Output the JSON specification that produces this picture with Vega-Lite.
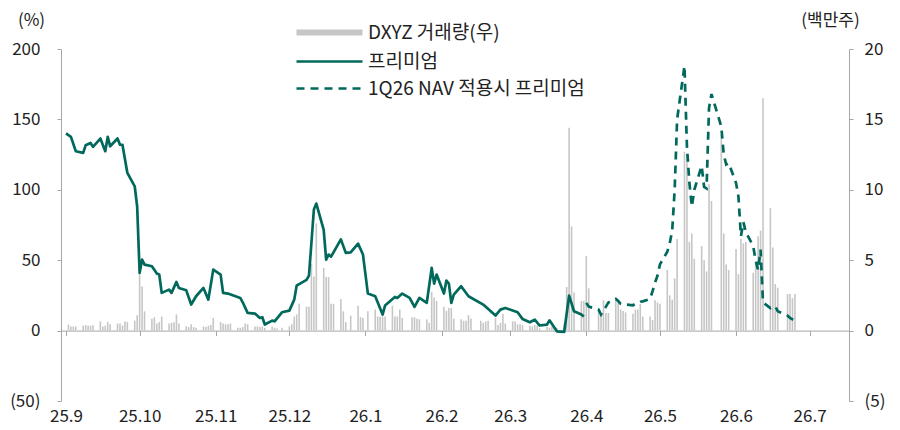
{
  "$schema": "https://vega.github.io/schema/vega-lite/v6.json",
  "width": 788,
  "height": 352,
  "autosize": "none",
  "padding": {"left": 61, "top": 49, "right": 51, "bottom": 29},
  "background": "white",
  "config": {
    "view": {"stroke": null},
    "font": "Noto Sans CJK KR"
  },
  "datasets": {
    "vol": [
      {"d":"2025-09-02","v":0.43},{"d":"2025-09-03","v":0.3},{"d":"2025-09-04","v":0.3},{"d":"2025-09-05","v":0.3},
      {"d":"2025-09-08","v":0.35},{"d":"2025-09-09","v":0.4},{"d":"2025-09-10","v":0.35},{"d":"2025-09-11","v":0.35},{"d":"2025-09-12","v":0.38},
      {"d":"2025-09-15","v":0.66},{"d":"2025-09-16","v":0.3},{"d":"2025-09-17","v":0.35},{"d":"2025-09-18","v":0.6},{"d":"2025-09-19","v":0.45},
      {"d":"2025-09-22","v":0.5},{"d":"2025-09-23","v":0.5},{"d":"2025-09-24","v":0.35},{"d":"2025-09-25","v":0.64},{"d":"2025-09-26","v":0.62},
      {"d":"2025-09-29","v":0.71},{"d":"2025-09-30","v":1.09},{"d":"2025-10-01","v":4.1},{"d":"2025-10-02","v":3.14},{"d":"2025-10-03","v":1.37},
      {"d":"2025-10-06","v":0.85},{"d":"2025-10-07","v":0.95},{"d":"2025-10-08","v":0.5},{"d":"2025-10-09","v":0.6},{"d":"2025-10-10","v":1.0},
      {"d":"2025-10-13","v":0.5},{"d":"2025-10-14","v":0.55},{"d":"2025-10-15","v":0.6},{"d":"2025-10-16","v":1.15},{"d":"2025-10-17","v":0.5},
      {"d":"2025-10-20","v":0.3},{"d":"2025-10-21","v":0.25},{"d":"2025-10-22","v":0.45},{"d":"2025-10-23","v":0.25},{"d":"2025-10-24","v":0.2},
      {"d":"2025-10-27","v":0.3},{"d":"2025-10-28","v":0.25},{"d":"2025-10-29","v":0.35},{"d":"2025-10-30","v":0.4},{"d":"2025-10-31","v":0.9},
      {"d":"2025-11-03","v":0.6},{"d":"2025-11-04","v":0.5},{"d":"2025-11-05","v":0.45},{"d":"2025-11-06","v":0.45},{"d":"2025-11-07","v":0.5},
      {"d":"2025-11-10","v":0.2},{"d":"2025-11-11","v":0.2},{"d":"2025-11-12","v":0.25},{"d":"2025-11-13","v":0.5},{"d":"2025-11-14","v":0.45},
      {"d":"2025-11-17","v":0.3},{"d":"2025-11-18","v":0.3},{"d":"2025-11-19","v":0.25},{"d":"2025-11-20","v":0.3},{"d":"2025-11-21","v":0.2},
      {"d":"2025-11-24","v":0.3},{"d":"2025-11-25","v":0.2},{"d":"2025-11-26","v":0.15},{"d":"2025-11-28","v":0.2},
      {"d":"2025-12-01","v":0.3},{"d":"2025-12-02","v":0.45},{"d":"2025-12-03","v":1.0},{"d":"2025-12-04","v":1.15},{"d":"2025-12-05","v":1.9},
      {"d":"2025-12-08","v":1.7},{"d":"2025-12-09","v":1.7},{"d":"2025-12-10","v":4.75},{"d":"2025-12-11","v":3.85},{"d":"2025-12-12","v":7.6},
      {"d":"2025-12-15","v":4.45},{"d":"2025-12-16","v":3.8},{"d":"2025-12-17","v":3.8},{"d":"2025-12-18","v":1.9},{"d":"2025-12-19","v":1.9},
      {"d":"2025-12-22","v":2.25},{"d":"2025-12-23","v":1.37},{"d":"2025-12-24","v":0.6},{"d":"2025-12-26","v":1.06},
      {"d":"2025-12-29","v":1.77},{"d":"2025-12-30","v":0.95},{"d":"2025-12-31","v":0.9},{"d":"2026-01-02","v":1.37},
      {"d":"2026-01-05","v":1.5},{"d":"2026-01-06","v":1.0},{"d":"2026-01-07","v":1.0},{"d":"2026-01-08","v":1.0},{"d":"2026-01-09","v":1.0},
      {"d":"2026-01-12","v":1.77},{"d":"2026-01-13","v":1.0},{"d":"2026-01-14","v":1.0},{"d":"2026-01-15","v":1.5},{"d":"2026-01-16","v":0.9},
      {"d":"2026-01-20","v":0.95},{"d":"2026-01-21","v":0.95},{"d":"2026-01-22","v":0.85},{"d":"2026-01-23","v":0.8},
      {"d":"2026-01-26","v":0.8},{"d":"2026-01-27","v":0.55},{"d":"2026-01-28","v":2.75},{"d":"2026-01-29","v":2.35},{"d":"2026-01-30","v":2.1},
      {"d":"2026-02-02","v":1.7},{"d":"2026-02-03","v":1.4},{"d":"2026-02-04","v":1.6},{"d":"2026-02-05","v":1.6},{"d":"2026-02-06","v":0.85},
      {"d":"2026-02-09","v":0.8},{"d":"2026-02-10","v":0.7},{"d":"2026-02-11","v":0.7},{"d":"2026-02-12","v":1.1},{"d":"2026-02-13","v":0.85},
      {"d":"2026-02-17","v":0.7},{"d":"2026-02-18","v":0.55},{"d":"2026-02-19","v":0.65},{"d":"2026-02-20","v":0.7},
      {"d":"2026-02-23","v":0.9},{"d":"2026-02-24","v":0.4},{"d":"2026-02-25","v":0.55},{"d":"2026-02-26","v":1.2},{"d":"2026-02-27","v":0.5},
      {"d":"2026-03-02","v":0.65},{"d":"2026-03-03","v":0.65},{"d":"2026-03-04","v":0.45},{"d":"2026-03-05","v":0.45},{"d":"2026-03-06","v":0.4},
      {"d":"2026-03-09","v":0.35},{"d":"2026-03-10","v":0.3},{"d":"2026-03-11","v":0.4},{"d":"2026-03-12","v":0.35},{"d":"2026-03-13","v":0.15},
      {"d":"2026-03-16","v":0.25},{"d":"2026-03-17","v":0.2},{"d":"2026-03-18","v":0.3},{"d":"2026-03-19","v":0.25},{"d":"2026-03-20","v":0.2},
      {"d":"2026-03-23","v":0.5},{"d":"2026-03-24","v":3.1},{"d":"2026-03-25","v":14.4},{"d":"2026-03-26","v":7.4},{"d":"2026-03-27","v":2.7},
      {"d":"2026-03-30","v":2.1},{"d":"2026-03-31","v":2.1},{"d":"2026-04-01","v":5.3},{"d":"2026-04-02","v":3.0},
      {"d":"2026-04-06","v":1.5},{"d":"2026-04-07","v":1.25},{"d":"2026-04-08","v":2.15},{"d":"2026-04-09","v":1.25},{"d":"2026-04-10","v":1.25},
      {"d":"2026-04-13","v":2.2},{"d":"2026-04-14","v":2.2},{"d":"2026-04-15","v":1.5},{"d":"2026-04-16","v":1.4},{"d":"2026-04-17","v":1.3},
      {"d":"2026-04-20","v":1.2},{"d":"2026-04-21","v":1.5},{"d":"2026-04-22","v":1.5},{"d":"2026-04-23","v":1.9},{"d":"2026-04-24","v":1.0},
      {"d":"2026-04-27","v":1.0},{"d":"2026-04-28","v":0.75},{"d":"2026-04-29","v":2.15},{"d":"2026-04-30","v":2.0},{"d":"2026-05-01","v":1.9},
      {"d":"2026-05-04","v":4.3},{"d":"2026-05-05","v":2.5},{"d":"2026-05-06","v":2.2},{"d":"2026-05-07","v":3.7},{"d":"2026-05-08","v":6.5},
      {"d":"2026-05-11","v":12.7},{"d":"2026-05-12","v":12.5},{"d":"2026-05-13","v":6.3},{"d":"2026-05-14","v":6.9},{"d":"2026-05-15","v":5.1},
      {"d":"2026-05-18","v":6.0},{"d":"2026-05-19","v":5.0},{"d":"2026-05-20","v":4.2},{"d":"2026-05-21","v":10.4},{"d":"2026-05-22","v":9.2},
      {"d":"2026-05-26","v":13.9},{"d":"2026-05-27","v":6.9},{"d":"2026-05-28","v":4.7},{"d":"2026-05-29","v":4.3},
      {"d":"2026-06-01","v":5.8},{"d":"2026-06-02","v":4.0},{"d":"2026-06-03","v":6.5},{"d":"2026-06-04","v":6.2},{"d":"2026-06-05","v":6.3},
      {"d":"2026-06-08","v":4.1},{"d":"2026-06-09","v":4.8},{"d":"2026-06-10","v":6.7},{"d":"2026-06-11","v":7.1},{"d":"2026-06-12","v":16.5},
      {"d":"2026-06-15","v":8.7},{"d":"2026-06-16","v":5.9},{"d":"2026-06-17","v":3.3},{"d":"2026-06-18","v":3.05},
      {"d":"2026-06-22","v":2.6},{"d":"2026-06-23","v":2.6},{"d":"2026-06-24","v":2.3},{"d":"2026-06-25","v":2.6}
    ],
    "prem": [
      {"d":"2025-09-01","v":140},{"d":"2025-09-03","v":137.6},{"d":"2025-09-05","v":127.4},{"d":"2025-09-08","v":126.2},{"d":"2025-09-09","v":131.6},
      {"d":"2025-09-11","v":133.3},{"d":"2025-09-12","v":130.5},{"d":"2025-09-15","v":136.4},{"d":"2025-09-17","v":127.4},{"d":"2025-09-18","v":137.6},
      {"d":"2025-09-19","v":130.9},{"d":"2025-09-22","v":136.4},{"d":"2025-09-23","v":132},{"d":"2025-09-24","v":132},{"d":"2025-09-26","v":112},
      {"d":"2025-09-29","v":102.5},{"d":"2025-09-30","v":88},{"d":"2025-10-01","v":41},{"d":"2025-10-02","v":50.4},{"d":"2025-10-03","v":46.9},
      {"d":"2025-10-06","v":45.7},{"d":"2025-10-08","v":40.5},{"d":"2025-10-09","v":39.8},{"d":"2025-10-10","v":26.8},{"d":"2025-10-13","v":29.1},
      {"d":"2025-10-14","v":26.8},{"d":"2025-10-16","v":34.6},{"d":"2025-10-17","v":30.3},{"d":"2025-10-20","v":28.6},{"d":"2025-10-22","v":18.5},
      {"d":"2025-10-24","v":24.4},{"d":"2025-10-27","v":30.3},{"d":"2025-10-29","v":22},{"d":"2025-10-31","v":43.3},{"d":"2025-11-03","v":39.8},
      {"d":"2025-11-04","v":26.8},{"d":"2025-11-06","v":26.3},{"d":"2025-11-11","v":23.2},{"d":"2025-11-12","v":20.1},{"d":"2025-11-14","v":12.6},
      {"d":"2025-11-17","v":12.1},{"d":"2025-11-19","v":9},{"d":"2025-11-20","v":9.5},{"d":"2025-11-21","v":4.3},{"d":"2025-11-24","v":7.1},
      {"d":"2025-11-25","v":6.6},{"d":"2025-11-28","v":13},{"d":"2025-12-01","v":14.2},{"d":"2025-12-03","v":22},{"d":"2025-12-04","v":32},
      {"d":"2025-12-05","v":33},{"d":"2025-12-08","v":36},{"d":"2025-12-09","v":39},{"d":"2025-12-11","v":86},{"d":"2025-12-12","v":90.2},
      {"d":"2025-12-15","v":71.5},{"d":"2025-12-16","v":50.4},{"d":"2025-12-17","v":54},{"d":"2025-12-18","v":52.5},{"d":"2025-12-22","v":64.8},
      {"d":"2025-12-24","v":55.2},{"d":"2025-12-26","v":55.6},{"d":"2025-12-29","v":61.8},{"d":"2025-12-31","v":54},{"d":"2026-01-02","v":26.3},
      {"d":"2026-01-05","v":24.4},{"d":"2026-01-08","v":11.4},{"d":"2026-01-09","v":17.8},{"d":"2026-01-13","v":23.9},{"d":"2026-01-14","v":23.2},
      {"d":"2026-01-16","v":26.3},{"d":"2026-01-19","v":23.2},{"d":"2026-01-21","v":16.8},{"d":"2026-01-23","v":23.2},{"d":"2026-01-26","v":19.7},
      {"d":"2026-01-28","v":44.5},{"d":"2026-01-29","v":33.4},{"d":"2026-01-30","v":39.8},{"d":"2026-02-02","v":26.3},{"d":"2026-02-03","v":35.5},
      {"d":"2026-02-04","v":33.4},{"d":"2026-02-05","v":19.7},{"d":"2026-02-06","v":25.6},{"d":"2026-02-09","v":31.5},{"d":"2026-02-12","v":24.4},
      {"d":"2026-02-18","v":18.5},{"d":"2026-02-23","v":10.7},{"d":"2026-02-25","v":14.9},{"d":"2026-02-27","v":16.1},{"d":"2026-03-04","v":13},
      {"d":"2026-03-06","v":8.3},{"d":"2026-03-09","v":5.9},{"d":"2026-03-11","v":7.8},{"d":"2026-03-13","v":3.6},{"d":"2026-03-16","v":4.3},
      {"d":"2026-03-17","v":7.3},{"d":"2026-03-20","v":-0.5},{"d":"2026-03-23","v":-0.9},{"d":"2026-03-25","v":24.9},{"d":"2026-03-27","v":13.7},
      {"d":"2026-03-30","v":11.4},{"d":"2026-03-31","v":10}
    ],
    "nav": [
      {"d":"2026-04-01","v":19.7},{"d":"2026-04-02","v":17},{"d":"2026-04-06","v":14.9},{"d":"2026-04-07","v":11.4},{"d":"2026-04-08","v":14},
      {"d":"2026-04-09","v":17},{"d":"2026-04-10","v":20},{"d":"2026-04-13","v":22.5},{"d":"2026-04-14","v":21},{"d":"2026-04-15","v":19},
      {"d":"2026-04-16","v":18.5},{"d":"2026-04-17","v":18.5},{"d":"2026-04-20","v":18},{"d":"2026-04-21","v":19},{"d":"2026-04-22","v":19.5},
      {"d":"2026-04-23","v":20.5},{"d":"2026-04-24","v":20.8},{"d":"2026-04-27","v":22.5},{"d":"2026-04-28","v":28},{"d":"2026-04-29","v":34},
      {"d":"2026-04-30","v":39},{"d":"2026-05-01","v":47},{"d":"2026-05-04","v":56},{"d":"2026-05-05","v":62},{"d":"2026-05-06","v":71},
      {"d":"2026-05-07","v":100},{"d":"2026-05-08","v":150},{"d":"2026-05-11","v":188},{"d":"2026-05-12","v":131},{"d":"2026-05-13","v":105},
      {"d":"2026-05-14","v":88},{"d":"2026-05-15","v":100},{"d":"2026-05-18","v":117},{"d":"2026-05-19","v":102},{"d":"2026-05-20","v":101},
      {"d":"2026-05-21","v":158},{"d":"2026-05-22","v":168},{"d":"2026-05-26","v":145},{"d":"2026-05-27","v":125},{"d":"2026-05-28","v":118},
      {"d":"2026-05-29","v":119},{"d":"2026-06-01","v":105},{"d":"2026-06-02","v":95},{"d":"2026-06-03","v":67},{"d":"2026-06-04","v":77},
      {"d":"2026-06-05","v":70},{"d":"2026-06-08","v":60},{"d":"2026-06-09","v":50},{"d":"2026-06-10","v":43},{"d":"2026-06-11","v":57.5},
      {"d":"2026-06-12","v":20},{"d":"2026-06-15","v":16},{"d":"2026-06-16","v":17},{"d":"2026-06-17","v":17.3},{"d":"2026-06-18","v":13.7},
      {"d":"2026-06-22","v":10.7},{"d":"2026-06-23","v":9},{"d":"2026-06-24","v":8},{"d":"2026-06-25","v":7.3}
    ]
  },
  "layer": [
    {
      "data": {"name": "vol"},
      "mark": {"type": "bar", "width": 1.6},
      "encoding": {
        "x": {
          "field": "d", "type": "temporal",
          "scale": {"type": "utc", "domain": [{"year": 2025, "month": 9, "date": 1, "utc": true}, {"year": 2026, "month": 7, "date": 15, "utc": true}]},
          "axis": {
            "orient": "bottom", "offset": -70.4, "format": "%y.%-m",
            "tickCount": {"interval": "month", "step": 1},
            "domainColor": "#a6a6a6", "tickColor": "#a6a6a6", "tickSize": 5,
            "labelPadding": 73, "labelFontSize": 17, "labelFont": "Noto Sans CJK KR", "labelColor": "#222222",
            "labelFlush": false, "labelOverlap": false, "grid": false, "title": null
          }
        },
        "y": {
          "field": "v", "type": "quantitative",
          "scale": {"domain": [-5, 20], "nice": false, "zero": false},
          "axis": {
            "orient": "right", "values": [-5, 0, 5, 10, 15, 20],
            "labelExpr": "datum.value < 0 ? '(' + abs(datum.value) + ')' : datum.label",
            "domainColor": "#a6a6a6", "tickColor": "#a6a6a6", "tickSize": 4,
            "labelPadding": 11, "labelFontSize": 17, "labelFont": "Noto Sans CJK KR", "labelColor": "#222222",
            "grid": false,
            "title": "(백만주)", "titleAngle": 0, "titleX": -19, "titleY": -29, "titleAlign": "center", "titleBaseline": "middle",
            "titleFontSize": 17, "titleFontWeight": "normal", "titleFont": "Noto Sans CJK KR", "titleColor": "#222222"
          }
        },
        "color": {
          "datum": "DXYZ 거래량(우)",
          "scale": {"domain": ["DXYZ 거래량(우)", "프리미엄", "1Q26 NAV 적용시 프리미엄"], "range": ["#c6c6c6", "#00695c", "#00695c"]},
          "legend": {
            "orient": "none", "legendX": 259, "legendY": -26, "title": null,
            "symbolType": "stroke", "symbolSize": 4356, "symbolStrokeWidth": 3,
            "labelFontSize": 19, "labelFont": "Noto Sans CJK KR", "labelColor": "#222222", "labelOffset": 29,
            "labelLimit": 500, "rowPadding": 7,
            "encode": {
              "symbols": {
                "update": {
                  "strokeWidth": {"signal": "datum.value === 'DXYZ 거래량(우)' ? 6 : 2.7"},
                  "strokeDash": {"signal": "datum.value === '1Q26 NAV 적용시 프리미엄' ? [8, 6] : [1, 0]"},
                  "stroke": {"signal": "datum.value === 'DXYZ 거래량(우)' ? '#c6c6c6' : '#00695c'"},
                  "fill": {"value": "transparent"}
                }
              }
            }
          }
        }
      }
    },
    {
      "layer": [
        {
          "data": {"name": "prem"},
          "mark": {"type": "line", "strokeWidth": 2.7, "strokeJoin": "round"},
          "encoding": {
            "x": {"field": "d", "type": "temporal"},
            "y": {
              "field": "v", "type": "quantitative",
              "scale": {"domain": [-50, 200], "nice": false, "zero": false},
              "axis": {
                "orient": "left", "values": [-50, 0, 50, 100, 150, 200],
                "labelExpr": "datum.value < 0 ? '(' + abs(datum.value) + ')' : datum.label",
                "domainColor": "#a6a6a6", "tickColor": "#a6a6a6", "tickSize": 4,
                "labelPadding": 17, "labelFontSize": 17, "labelFont": "Noto Sans CJK KR", "labelColor": "#222222",
                "grid": false,
                "title": "(%)", "titleAngle": 0, "titleX": -30, "titleY": -29, "titleAlign": "center", "titleBaseline": "middle",
                "titleFontSize": 17, "titleFontWeight": "normal", "titleFont": "Noto Sans CJK KR", "titleColor": "#222222"
              }
            },
            "color": {"datum": "프리미엄"}
          }
        },
        {
          "data": {"name": "nav"},
          "mark": {"type": "line", "strokeWidth": 2.7, "strokeDash": [8, 6]},
          "encoding": {
            "x": {"field": "d", "type": "temporal"},
            "y": {"field": "v", "type": "quantitative"},
            "color": {"datum": "1Q26 NAV 적용시 프리미엄"}
          }
        }
      ]
    }
  ],
  "resolve": {"scale": {"y": "independent"}, "axis": {"y": "independent"}}
}
